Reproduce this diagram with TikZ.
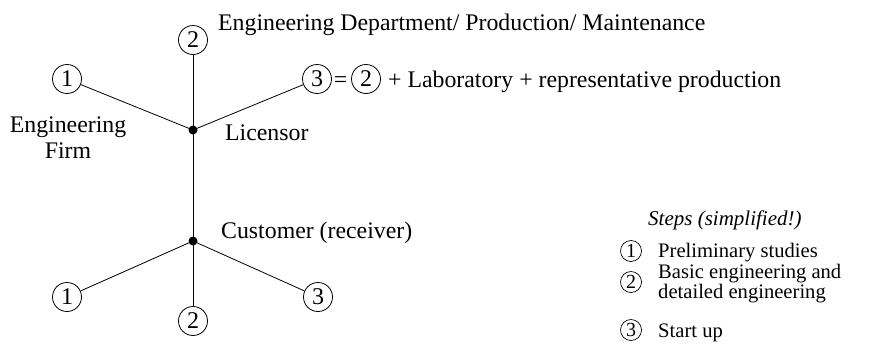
\documentclass[tikz,border=0pt]{standalone}
\usepackage{fontspec}
\setmainfont{Liberation Serif}
\begin{document}
\begin{tikzpicture}[x=1pt,y=-1pt,
  num/.style={circle,draw,line width=0.8pt,minimum size=29pt,inner sep=0pt,font=\fontsize{24}{26}\selectfont},
  lnum/.style={circle,draw,line width=0.7pt,minimum size=21pt,inner sep=0pt,font=\fontsize{20}{22}\selectfont},
  dot/.style={circle,fill=black,minimum size=9pt,inner sep=0pt},
  lbl/.style={inner sep=0pt,font=\fontsize{23.8}{27}\selectfont},
  leg/.style={inner sep=0pt,font=\fontsize{20.6}{23}\selectfont},
  conn/.style={line width=0.8pt}]
\useasboundingbox (0,0) rectangle (872,349);
% dots
\node[dot] (lic) at (193,130) {};
\node[dot] (cus) at (193,241) {};
% top circles
\node[num] (t1) at (67,79) {1};
\node[num] (t2) at (193,40) {2};
\node[num] (t3) at (317,79) {3};
\node[lbl,anchor=base] (eq) at (340.5,87) {=};
\node[num] (t2b) at (366,79) {2};
\node[lbl,anchor=base west] (lab) at (388,87) {+ Laboratory + representative production};
\node[lbl,anchor=base west] (eng) at (218,30) {Engineering Department/ Production/ Maintenance};
\node[lbl,anchor=base west] (licl) at (225,140) {Licensor};
\node[lbl,anchor=base] (firm1) at (68,132) {Engineering};
\node[lbl,anchor=base] (firm2) at (68,158) {Firm};
\node[lbl,anchor=base west] (cusl) at (221,238) {Customer (receiver)};
% bottom circles
\node[num] (b1) at (67,297) {1};
\node[num] (b2) at (193,321) {2};
\node[num] (b3) at (318,297) {3};
% connectors
\draw[conn] (t1) -- (lic.center);
\draw[conn] (t2) -- (lic.center);
\draw[conn] (t3) -- (lic.center);
\draw[conn] (lic.center) -- (cus.center);
\draw[conn] (cus.center) -- (b1);
\draw[conn] (cus.center) -- (b2);
\draw[conn] (cus.center) -- (b3);
% legend
\node[leg,anchor=base west,font=\fontsize{21}{23}\selectfont\itshape] (steps) at (648,225) {Steps (simplified!)};
\node[lnum] (l1) at (631,251) {1};
\node[leg,anchor=base west] (l1t) at (658,257) {Preliminary studies};
\node[lnum] (l2) at (631,282) {2};
\node[leg,anchor=base west] (l2t) at (658,278) {Basic engineering and};
\node[leg,anchor=base west] (l2u) at (658,298) {detailed engineering};
\node[lnum] (l3) at (631,330) {3};
\node[leg,anchor=base west] (l3t) at (658,337) {Start up};
\end{tikzpicture}
\end{document}
